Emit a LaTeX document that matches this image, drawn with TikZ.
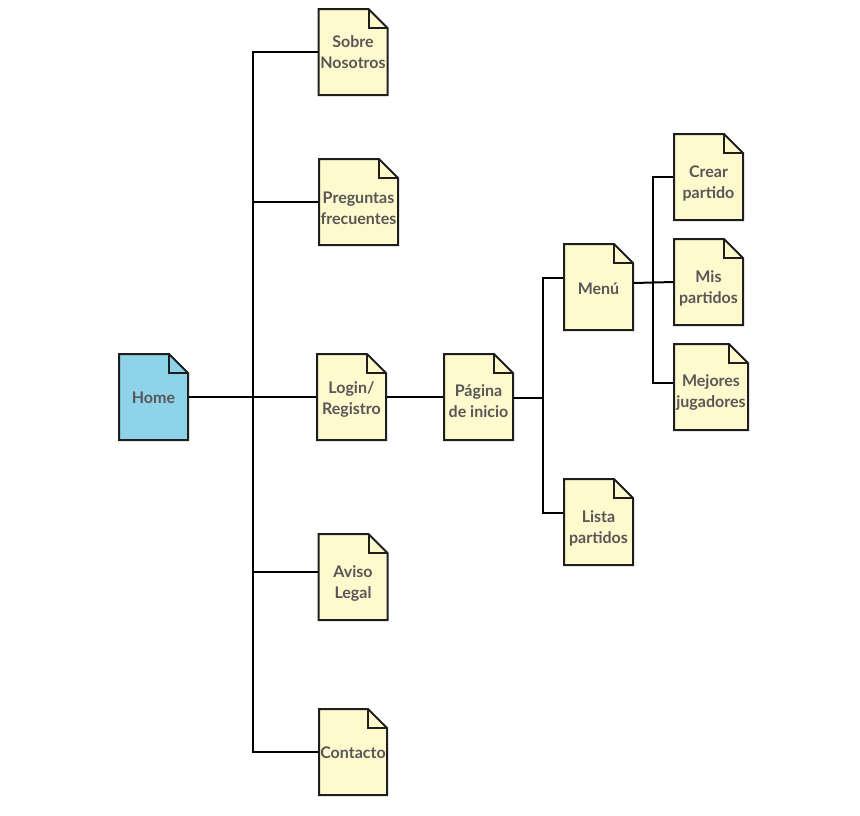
\documentclass[tikz,border=0pt]{standalone}
\usepackage{fontspec}
\setmainfont{Lato}
\usetikzlibrary{backgrounds}

\definecolor{docyellow}{HTML}{FFFACD}
\definecolor{docblue}{HTML}{8ED3EA}
\definecolor{inkline}{HTML}{1E1E1E}
\definecolor{labeltext}{HTML}{575757}

\tikzset{
  page/.style={minimum width=69pt, minimum height=86pt, inner sep=0pt, outer sep=0pt},
  pagetext/.style={inner sep=0pt, align=center, text=labeltext,
    font=\bfseries\fontsize{16}{21}\selectfont},
  % caption set in the middle of a page, shifted down by #1
  caption/.style 2 args={label={[pagetext, yshift=-#1]center:{#2}}},
  link/.style={draw=black, line width=2pt},
  sheet/.style={draw=inkline, line width=2pt, line join=miter}
}

% dog-eared page outline behind a node: #1 node name, #2 fill colour
\newcommand\pageoutline[2]{%
  \filldraw[sheet, fill=#2] ([xshift=-19pt]#1.north east) -- (#1.north west) -- (#1.south west)
    -- (#1.south east) -- ([yshift=-19pt]#1.north east) -- cycle;
  \draw[sheet] ([xshift=-19pt]#1.north east) |- ([yshift=-19pt]#1.north east);
}

\begin{document}
\begin{tikzpicture}[x=1pt, y=-1pt]
  \useasboundingbox (0,0) rectangle (860,815);

  % pages
  \node[page, caption={1pt}{Home}]                     (home)      at (153.5,397) {};
  \node[page, caption={0pt}{Sobre\\Nosotros}]          (sobre)     at (353,52)    {};
  \node[page, minimum width=79pt, caption={6pt}{Preguntas\\frecuentes}] (preguntas) at (358.5,202) {};
  \node[page, caption={2.5pt}{Login/\\Registro}]       (login)     at (351.5,397) {};
  \node[page, caption={6.5pt}{Aviso\\Legal}]           (aviso)     at (353,577)   {};
  \node[page, minimum width=68pt, caption={0.5pt}{Contacto}] (contacto) at (353,752) {};
  \node[page, caption={4pt}{Página\\de inicio}]        (pagina)    at (478.5,397) {};
  \node[page, caption={1.5pt}{Menú}]                   (menu)      at (598.5,287) {};
  \node[page, caption={6pt}{Lista\\partidos}]          (lista)     at (598.5,522) {};
  \node[page, caption={6.5pt}{Crear\\partido}]         (crear)     at (708.5,177) {};
  \node[page, caption={6pt}{Mis\\partidos}]            (mis)       at (708.5,282) {};
  \node[page, minimum width=74pt, caption={6pt}{Mejores\\jugadores}] (mejores) at (711,387) {};

  % branch columns
  \coordinate (trunkA) at (253,0);
  \coordinate (trunkB) at (543,0);
  \coordinate (trunkC) at (653,0);

  \begin{scope}[on background layer]
    % first level
    \draw[link] (home.east) -- (login.west);
    \draw[link] (sobre.west) -- (sobre.west -| trunkA) -- (contacto.west -| trunkA) -- (contacto.west);
    \draw[link] (preguntas.west) -- (preguntas.west -| trunkA);
    \draw[link] ([yshift=5pt]aviso.west) -- ([yshift=5pt]aviso.west -| trunkA);
    % second level
    \draw[link] (login.east) -- (pagina.west);
    \draw[link] ([yshift=-1pt]pagina.east) -- ([yshift=-1pt]pagina.east -| trunkB);
    \draw[link] ([yshift=9pt]menu.west) -- ([yshift=9pt]menu.west -| trunkB)
      -- ([yshift=9pt]lista.west -| trunkB) -- ([yshift=9pt]lista.west);
    % third level
    \draw[link] ([yshift=4pt]menu.east) -- (mis.west);
    \draw[link] (crear.west) -- (crear.west -| trunkC) -- ([yshift=4pt]mejores.west -| trunkC)
      -- ([yshift=4pt]mejores.west);

    % page outlines
    \pageoutline{home}{docblue}
    \foreach \p in {sobre,preguntas,login,aviso,contacto,pagina,menu,lista,crear,mis,mejores}
      {\pageoutline{\p}{docyellow}}
  \end{scope}
\end{tikzpicture}
\end{document}
